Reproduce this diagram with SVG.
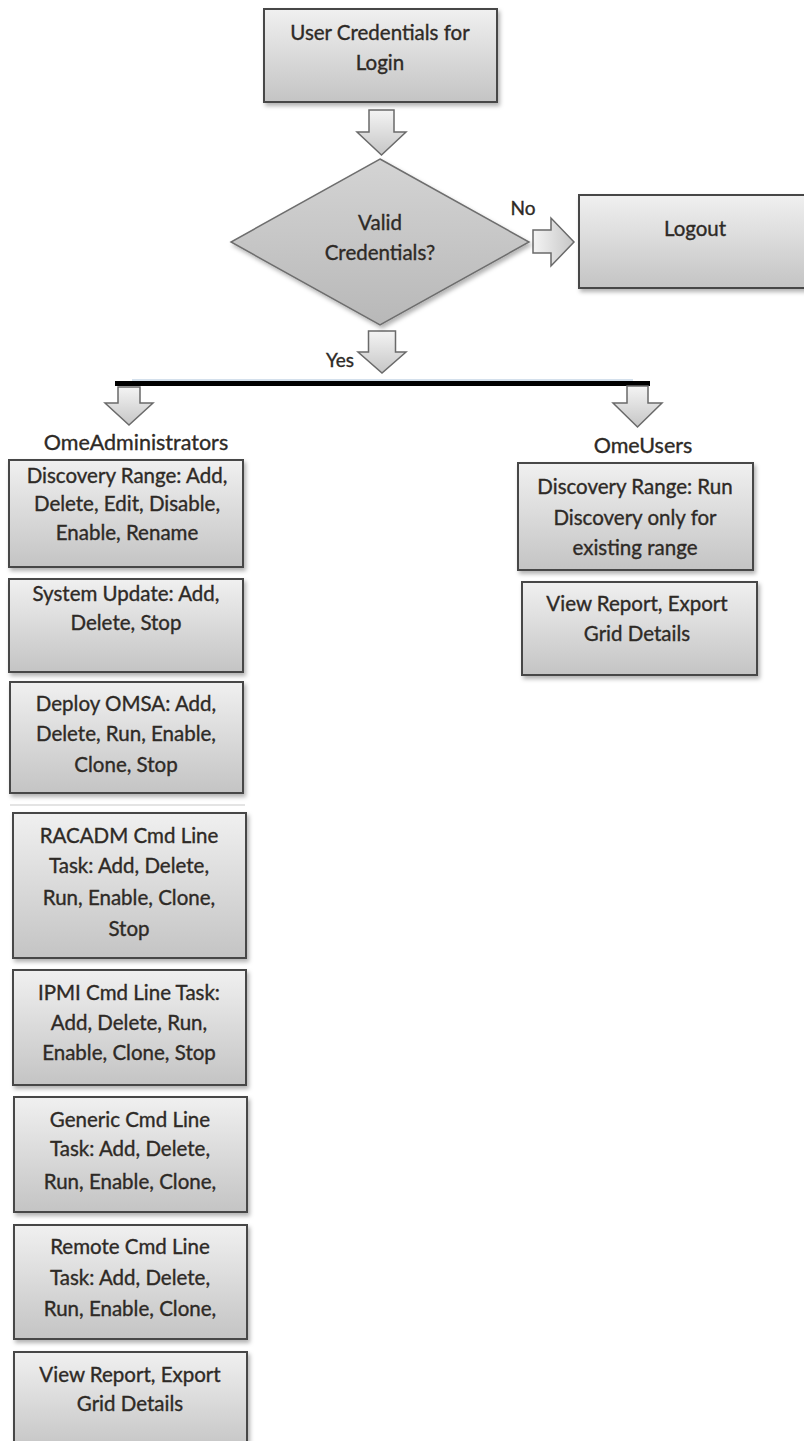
<svg xmlns="http://www.w3.org/2000/svg" width="804" height="1441" viewBox="0 0 804 1441">
<defs>
<linearGradient id="gBox" x1="0" y1="0" x2="0" y2="1">
<stop offset="0" stop-color="#f0f0f0"/>
<stop offset="1" stop-color="#c4c4c4"/>
</linearGradient>
<linearGradient id="gDia" x1="0" y1="0" x2="0" y2="1">
<stop offset="0" stop-color="#d4d4d4"/>
<stop offset="1" stop-color="#b8b8b8"/>
</linearGradient>
<linearGradient id="gArr" x1="0" y1="0" x2="0" y2="1">
<stop offset="0" stop-color="#f4f4f4"/>
<stop offset="1" stop-color="#c6c6c6"/>
</linearGradient>
<linearGradient id="gArrH" x1="0" y1="0" x2="1" y2="0">
<stop offset="0" stop-color="#f4f4f4"/>
<stop offset="1" stop-color="#c6c6c6"/>
</linearGradient>
<filter id="sh" x="-10%" y="-10%" width="125%" height="130%">
<feDropShadow dx="2" dy="3" stdDeviation="2" flood-color="#000" flood-opacity="0.3"/>
</filter>
</defs>
<style>
.box{fill:url(#gBox);stroke:#474747;stroke-width:2;filter:url(#sh)}
.dia{fill:url(#gDia);stroke:#6e6e6e;stroke-width:1.5;filter:url(#sh)}
.arr{fill:url(#gArr);stroke:#6a6a6a;stroke-width:1.5}
.arrh{fill:url(#gArrH);stroke:#6a6a6a;stroke-width:1.5}
text{font-family:Lato,"Open Sans","Liberation Sans",sans-serif;font-size:20.5px;fill:#2e2a26;stroke:#2e2a26;stroke-width:0.35;text-anchor:middle;dominant-baseline:central}
.lbl{font-size:19px}
.grp{font-size:21.5px}
</style>
<rect width="804" height="1441" fill="#fff"/>

<g id="connectors">
<path class="arr" d="M369,110 L394,110 L394,132 L406,132 L381.5,155 L357,132 L369,132 Z"/>
<path class="arrh" d="M533,230 L551,230 L551,218 L574,242 L551,266 L551,253 L533,253 Z"/>
<path class="arr" d="M368.5,331 L395.5,331 L395.5,352 L406,352 L382,373 L358,352 L368.5,352 Z"/>
<line x1="132" y1="380" x2="633" y2="380" stroke="#a9c1d9" stroke-width="1"/>
<rect x="115" y="381" width="535" height="5" fill="#000"/>
<path class="arr" d="M118,387 L140,387 L140,403 L153,403 L129,425 L105,403 L118,403 Z"/>
<path class="arr" d="M627,386 L648,386 L648,403 L662,403 L637.5,427 L613,403 L627,403 Z"/>
<text class="lbl" x="523" y="207">No</text>
<text class="lbl" x="340" y="359">Yes</text>
<line x1="10" y1="805" x2="245" y2="805" stroke="#e4e4e4" stroke-width="2"/>
</g>

<g id="login">
<rect class="box" x="264" y="9" width="233" height="93"/>
<text x="380" y="32">User Credentials for</text>
<text x="380" y="62">Login</text>
</g>

<g id="valid">
<polygon class="dia" points="380,159 529,242 380,325 231,242"/>
<text x="380" y="222">Valid</text>
<text x="380" y="252">Credentials?</text>
</g>

<g id="logout">
<rect class="box" x="579" y="195" width="230" height="93"/>
<text x="695" y="228">Logout</text>
</g>

<g id="omeadmins">
<text class="grp" x="136" y="442">OmeAdministrators</text>
</g>

<g id="omeusers">
<text class="grp" x="643" y="445">OmeUsers</text>
</g>

<g id="admin-discovery">
<rect class="box" x="9" y="460" width="234" height="107"/>
<text x="127" y="475">Discovery Range: Add,</text>
<text x="127" y="503">Delete, Edit, Disable,</text>
<text x="127" y="532">Enable, Rename</text>
</g>

<g id="admin-update">
<rect class="box" x="9" y="579" width="234" height="93"/>
<text x="126" y="593">System Update: Add,</text>
<text x="126" y="622">Delete, Stop</text>
</g>

<g id="admin-omsa">
<rect class="box" x="10" y="682" width="233" height="111"/>
<text x="126" y="703">Deploy OMSA: Add,</text>
<text x="126" y="733">Delete, Run, Enable,</text>
<text x="126" y="764">Clone, Stop</text>
</g>

<g id="admin-racadm">
<rect class="box" x="13" y="813" width="233" height="145"/>
<text x="129" y="835">RACADM Cmd Line</text>
<text x="129" y="865">Task: Add, Delete,</text>
<text x="129" y="897">Run, Enable, Clone,</text>
<text x="129" y="928">Stop</text>
</g>

<g id="admin-ipmi">
<rect class="box" x="13" y="970" width="233" height="115"/>
<text x="129" y="992">IPMI Cmd Line Task:</text>
<text x="129" y="1022">Add, Delete, Run,</text>
<text x="129" y="1052">Enable, Clone, Stop</text>
</g>

<g id="admin-generic">
<rect class="box" x="14" y="1097" width="233" height="115"/>
<text x="130" y="1119">Generic Cmd Line</text>
<text x="130" y="1148">Task: Add, Delete,</text>
<text x="130" y="1181">Run, Enable, Clone,</text>
</g>

<g id="admin-remote">
<rect class="box" x="14" y="1225" width="233" height="114"/>
<text x="130" y="1246">Remote Cmd Line</text>
<text x="130" y="1277">Task: Add, Delete,</text>
<text x="130" y="1308">Run, Enable, Clone,</text>
</g>

<g id="admin-report">
<rect class="box" x="14" y="1352" width="233" height="100"/>
<text x="130" y="1374">View Report, Export</text>
<text x="130" y="1403">Grid Details</text>
</g>

<g id="user-discovery">
<rect class="box" x="518" y="463" width="235" height="107"/>
<text x="635" y="486">Discovery Range: Run</text>
<text x="635" y="517">Discovery only for</text>
<text x="635" y="547">existing range</text>
</g>

<g id="user-report">
<rect class="box" x="522" y="582" width="235" height="93"/>
<text x="637" y="603">View Report, Export</text>
<text x="637" y="633">Grid Details</text>
</g>
</svg>
